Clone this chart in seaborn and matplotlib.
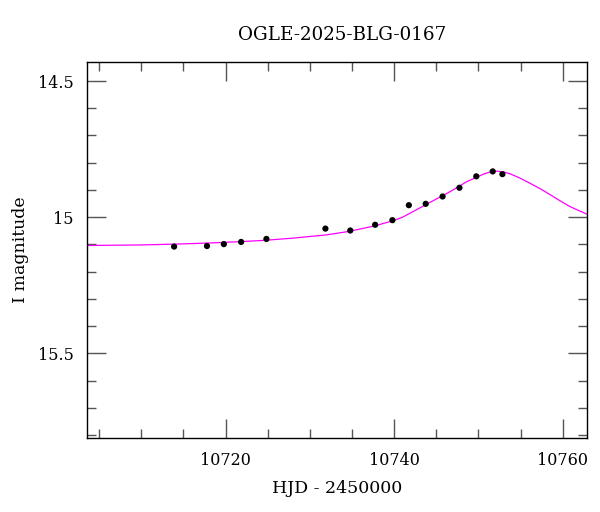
import matplotlib
matplotlib.use("Agg")
import matplotlib.pyplot as plt
import seaborn as sns
import pandas as pd
from matplotlib.ticker import FixedLocator, MultipleLocator, FuncFormatter

# ---- data ----
obs_hjd = [10713.9, 10717.8, 10719.8, 10721.85, 10724.85, 10731.85, 10734.8,
           10737.75, 10739.8, 10741.75, 10743.75, 10745.75, 10747.75, 10749.75,
           10751.7, 10752.85]
obs_mag = [15.108, 15.106, 15.099, 15.091, 15.080, 15.042, 15.049, 15.028,
           15.011, 14.956, 14.951, 14.924, 14.892, 14.850, 14.832, 14.842]

model_hjd = [10703.6, 10710.0, 10714.0, 10718.0, 10721.0, 10724.7, 10728.0,
             10732.0, 10734.7, 10737.7, 10739.9, 10741.0, 10742.7, 10744.6,
             10746.6, 10748.6, 10750.6, 10751.4, 10752.2, 10753.0, 10753.7,
             10754.9, 10756.1, 10757.3, 10758.5, 10759.7, 10760.8, 10762.0,
             10762.9]
model_mag = [15.104, 15.102, 15.099, 15.095, 15.091, 15.085, 15.077,
             15.065, 15.052, 15.032, 15.013, 15.000, 14.972, 14.940,
             14.907, 14.870, 14.842, 14.834, 14.831, 14.834, 14.840,
             14.856, 14.875, 14.895, 14.917, 14.940, 14.960, 14.977,
             14.989]

title = "OGLE-2025-BLG-0167"
xlabel = "HJD - 2450000"
ylabel = "I magnitude"
x_major = [10720, 10740, 10760]
y_major = [14.5, 15.0, 15.5]

sns.set_theme(style="ticks")
plt.rcParams["font.family"] = ["DejaVu Serif"]
plt.rcParams["text.color"] = "black"
plt.rcParams["axes.labelcolor"] = "black"

fig = plt.figure(figsize=(6.0, 5.12), dpi=100)
ax = fig.add_axes([87.3 / 600, 1 - 437.7 / 512, (586.7 - 87.3) / 600, (437.7 - 61.7) / 512])

model_df = pd.DataFrame({"hjd": model_hjd, "mag": model_mag})
obs_df = pd.DataFrame({"hjd": obs_hjd, "mag": obs_mag})

sns.lineplot(data=model_df, x="hjd", y="mag", ax=ax, color="#ff00ff",
             linewidth=0.9, sort=True, estimator=None, zorder=2)
sns.scatterplot(data=obs_df, x="hjd", y="mag", ax=ax, color="black",
                s=20, edgecolor="none", zorder=3)

ax.set_xlim(10703.6, 10762.85)
ax.set_ylim(15.81, 14.429)

ax.xaxis.set_major_locator(FixedLocator(x_major))
ax.xaxis.set_minor_locator(MultipleLocator(5))
ax.yaxis.set_major_locator(FixedLocator(y_major))
ax.yaxis.set_minor_locator(MultipleLocator(0.1))
ax.yaxis.set_major_formatter(FuncFormatter(lambda v, p: f"{v:g}"))
ax.xaxis.set_major_formatter(FuncFormatter(lambda v, p: f"{v:.0f}"))

ax.tick_params(which="both", direction="in", top=True, right=True,
               color="#555555", labelsize=11.5, labelcolor="black", pad=10)
ax.tick_params(which="major", length=13.8, width=1.0)
ax.tick_params(which="minor", length=6.7, width=1.0)
for s in ax.spines.values():
    s.set_visible(True)
    s.set_color("black")
    s.set_linewidth(1.0)

ax.set_xlabel(xlabel, fontsize=12.5, labelpad=8, color="black")
ax.set_ylabel(ylabel, fontsize=12.5, labelpad=6, color="black")
fig.text(0.5 * (87.3 + 586.7) / 600 + 0.008, 1 - 35 / 512, title,
         ha="center", va="center", fontsize=13.2, color="black")

fig.savefig("out.png", dpi=100)
